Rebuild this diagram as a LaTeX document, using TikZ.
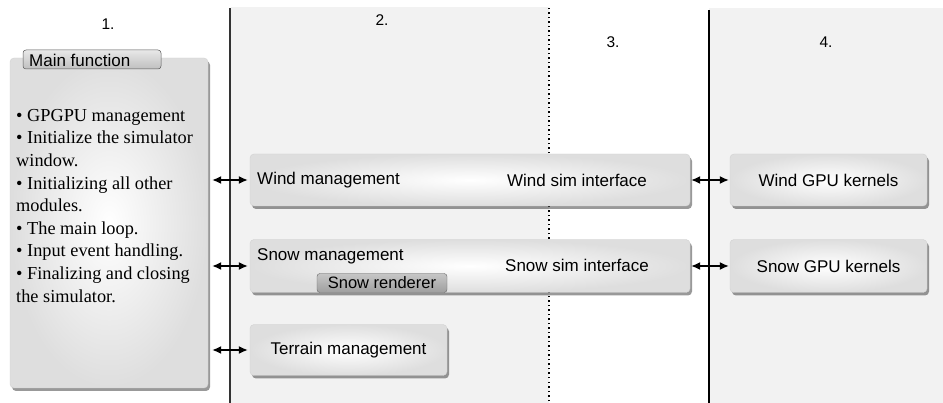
\documentclass[tikz,border=0pt]{standalone}
\usepackage{fontspec}
\setmainfont{Liberation Sans}
\newfontfamily\serifbody{Liberation Serif}
\usetikzlibrary{shadows,arrows.meta}
\begin{document}
\begin{tikzpicture}[x=1pt,y=-1pt,
  boxstyle/.style={rectangle, rounded corners=4pt, draw=gray!35, line width=0.4pt,
    inner color=white, outer color=gray!26, shading=radial,
    font=\fontsize{17}{19}\selectfont,
    drop shadow={shadow xshift=2pt, shadow yshift=-3pt, opacity=0.5, fill=black!80}},
  tabstyle/.style={rectangle, rounded corners=3pt, draw=gray!70!black, line width=0.5pt,
    top color=gray!18, bottom color=gray!50, inner sep=0pt},
  darktab/.style={rectangle, rounded corners=3pt, draw=gray!80!black, line width=0.4pt,
    top color=gray!45, bottom color=gray!75, inner sep=0pt, font=\fontsize{16.5}{18}\selectfont},
  lbl/.style={inner sep=0pt, font=\fontsize{17}{19}\selectfont},
  collbl/.style={inner sep=0pt, font=\fontsize{15.5}{17}\selectfont},
  dbl/.style={{Latex[length=9pt,width=8pt]}-{Latex[length=9pt,width=8pt]}, line width=1.4pt},
]
\useasboundingbox (0,0) rectangle (943,403);
% column backgrounds
\fill[gray!10] (231,7) rectangle (549,403);
\fill[gray!10] (709,8) rectangle (943,403);
% separators
\coordinate (s1t) at (230,8); \coordinate (s1b) at (230,403);
\coordinate (s2t) at (549,8); \coordinate (s2b) at (549,403);
\coordinate (s3t) at (709,10); \coordinate (s3b) at (709,403);
\draw[line width=1.8pt, black!80] (s1t) -- (s1b);
\draw[line width=1.1pt, dash pattern=on 1.5pt off 3pt] (s2t) -- (s2b);
\draw[line width=1.3pt] (s3t) -- (s3b);
% column labels
\node[collbl] (c1) at (108,24) {1.};
\node[collbl] (c2) at (382,20) {2.};
\node[collbl] (c3) at (613,42) {3.};
\node[collbl] (c4) at (826,42) {4.};
% main function
\node[boxstyle, minimum width=198pt, minimum height=330pt] (main) at (109,223) {};
\node[tabstyle, minimum width=138pt, minimum height=19pt] (maintab) at (92,59.5) {};
\node[inner sep=0pt, anchor=west, font=\fontsize{17}{19}\selectfont] (maintxt) at (29,60) {Main function};
\node[inner sep=0pt, anchor=north west, align=left, font={\serifbody\fontsize{18.3}{22.6}\selectfont}] (bullets) at (16,109)
 {• GPGPU management\\• Initialize the simulator\\window.\\• Initializing all other\\modules.\\• The main loop.\\• Input event handling.\\• Finalizing and closing\\the simulator.};
% column 2/3 boxes
\node[boxstyle, minimum width=440pt, minimum height=52pt] (wind) at (470,180) {};
\node[boxstyle, minimum width=440pt, minimum height=53pt] (snow) at (470,266) {};
\node[boxstyle, minimum width=197pt, minimum height=51pt] (terrain) at (348.5,350) {Terrain management};
\node[lbl, anchor=west] (windm) at (257,180) {Wind management};
\node[lbl] (winds) at (577,180) {Wind sim interface};
\node[lbl, anchor=west] (snowm) at (257,256) {Snow management};
\node[lbl] (snows) at (577,265) {Snow sim interface};
\node[darktab, minimum width=130pt, minimum height=19pt] (snowr) at (382,283) {Snow renderer};
% column 4 boxes
\node[boxstyle, minimum width=197pt, minimum height=52pt] (windk) at (828.5,180) {Wind GPU kernels};
\node[boxstyle, minimum width=197pt, minimum height=53pt] (snowk) at (828.5,266) {Snow GPU kernels};
% arrows
\draw[dbl, shorten <=4pt, shorten >=2pt] (main.east |- wind.west) -- (wind.west);
\draw[dbl, shorten <=4pt, shorten >=2pt] (main.east |- snow.west) -- (snow.west);
\draw[dbl, shorten <=4pt, shorten >=2pt] (main.east |- terrain.west) -- (terrain.west);
\draw[dbl, shorten <=1pt, shorten >=1pt] (wind.east) -- (windk.west);
\draw[dbl, shorten <=1pt, shorten >=1pt] (snow.east) -- (snowk.west);
\end{tikzpicture}
\end{document}
